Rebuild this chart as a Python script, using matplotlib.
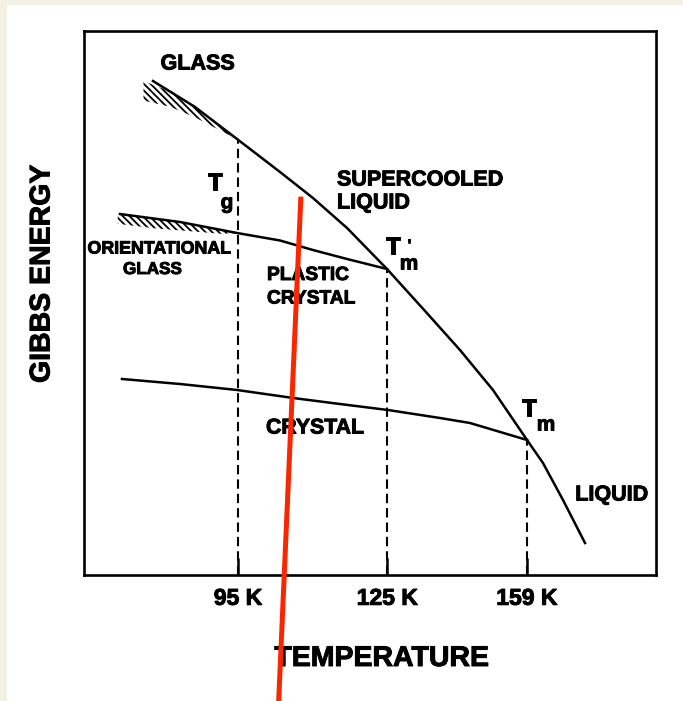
import numpy as np
import matplotlib
matplotlib.use("Agg")
import matplotlib.pyplot as plt
import matplotlib.patheffects as pe
from matplotlib.patches import Rectangle

# Schematic Gibbs energy vs temperature (arbitrary units 0-100 on both axes)
upper_x = [12.06, 19.41, 26.75, 34.27, 40.03, 45.98, 52.97, 59.62, 65.73,
           71.50, 77.45, 80.24, 83.74, 87.59]
upper_y = [90.81, 86.03, 80.15, 74.08, 69.30, 63.79, 56.25, 48.53, 41.36,
           34.01, 24.82, 20.59, 13.79, 5.88]

plastic_x = [6.29, 16.78, 26.75, 34.27, 40.03, 45.98, 52.97]
plastic_y = [66.36, 64.89, 62.87, 61.49, 59.74, 58.09, 56.25]

crystal_x = [6.64, 16.78, 26.75, 36.54, 44.76, 53.15, 62.24, 67.48, 77.45]
crystal_y = [36.03, 35.11, 34.01, 32.54, 31.43, 30.33, 28.86, 27.94, 24.82]

# transition temperatures (position on the schematic axis, label)
trans_x = [26.9, 53.0, 77.4]
trans_labels = ["95 K", "125 K", "159 K"]

# hatched glassy regions
glass_hatch_x = [10.4, 15.0, 19.4, 23.0, 26.9]
glass_hatch_depth = [3.6, 2.8, 1.9, 1.0, 0.0]
orient_hatch_x = [5.9, 12.0, 18.0, 24.0, 26.9]
orient_hatch_depth = [1.8, 1.8, 1.4, 0.7, 0.0]

# red marker line drawn over the scan
red_x = [37.9, 34.0]
red_y = [69.1, -24.0]

plt.rcParams['font.family'] = ['Liberation Sans', 'DejaVu Sans']
plt.rcParams['font.weight'] = 'bold'
plt.rcParams['hatch.linewidth'] = 1.3

heavy = [pe.withStroke(linewidth=0.7, foreground='black')]

fig = plt.figure(figsize=(6.83, 7.01), dpi=100, facecolor='#f3f1e3')
fig.patches.append(Rectangle((7 / 683, 0), 1, 1 - 5 / 701, transform=fig.transFigure,
                             facecolor='white', edgecolor='none', zorder=-1))
ax = fig.add_axes([84 / 683, 1 - 575 / 701, 572 / 683, 544 / 701])
ax.set_xlim(0, 100)
ax.set_ylim(0, 100)

lw = 1.8
ax.plot(upper_x, upper_y, color='black', lw=lw, solid_joinstyle='round')
ax.plot(plastic_x, plastic_y, color='black', lw=lw, solid_joinstyle='round')
ax.plot(crystal_x, crystal_y, color='black', lw=lw, solid_joinstyle='round')

# hatched bands
gx = np.array(glass_hatch_x)
gtop = np.interp(gx, upper_x, upper_y)
ax.fill_between(gx, gtop - np.array(glass_hatch_depth), gtop, facecolor='none',
                edgecolor='black', hatch='\\\\\\\\\\', linewidth=0)
ox = np.array(orient_hatch_x)
otop = np.interp(ox, plastic_x, plastic_y)
ax.fill_between(ox, otop - np.array(orient_hatch_depth), otop, facecolor='none',
                edgecolor='black', hatch='\\\\\\\\\\', linewidth=0)

# dashed drop lines
for x in trans_x:
    top = np.interp(x, upper_x, upper_y)
    ax.plot([x, x], [0, top], color='black', lw=1.5, dashes=(4.5, 2.4))

ax.plot(red_x, red_y, color='#fa2600', lw=3.6, clip_on=False, zorder=5)


def px(x, y):
    return (x - 84) / 5.72, (575 - y) / 5.44


def label(x, y, s, size, ha='center'):
    ax.text(*px(x, y), s, fontsize=size, fontweight='bold', ha=ha, va='center',
            path_effects=heavy)


label(197.5, 64, "GLASS", 15.5)
label(337, 180, "SUPERCOOLED", 15.5, ha='left')
label(337, 203, "LIQUID", 15.5, ha='left')
label(159, 249, "ORIENTATIONAL", 12.8)
label(152.5, 269.5, "GLASS", 12.3)
label(267, 275.5, "PLASTIC", 13.8, ha='left')
label(267, 299, "CRYSTAL", 13.8, ha='left')
label(266, 428, "CRYSTAL", 15.3, ha='left')
label(611.5, 495, "LIQUID", 15.5)

label(215, 183, "T", 17)
label(227, 203, "g", 15)
label(393, 247, "T", 17)
label(409, 264, "m", 15)
label(409.5, 246, "'", 11)
label(529, 409, "T", 17)
label(546, 425, "m", 15)

for s in ax.spines.values():
    s.set_linewidth(1.9)
ax.set_yticks([])
ax.set_xticks(trans_x, trans_labels, fontsize=16.5, fontweight='bold')
ax.tick_params(axis='x', direction='in', length=12, width=1.8, pad=8.5)
for t in ax.get_xticklabels():
    t.set_path_effects(heavy)

ax.set_xlabel("TEMPERATURE", fontsize=20.5, fontweight='bold', va='center',
              path_effects=heavy)
ax.xaxis.set_label_coords((381.7 - 84) / 572, (575 - 659) / 544)
ax.set_ylabel("GIBBS ENERGY", fontsize=20.5, fontweight='bold', va='center',
              path_effects=heavy)
ax.yaxis.set_label_coords((42.5 - 84) / 572, (575 - 274) / 544)

fig.savefig("out.png", dpi=100, facecolor=fig.get_facecolor())
